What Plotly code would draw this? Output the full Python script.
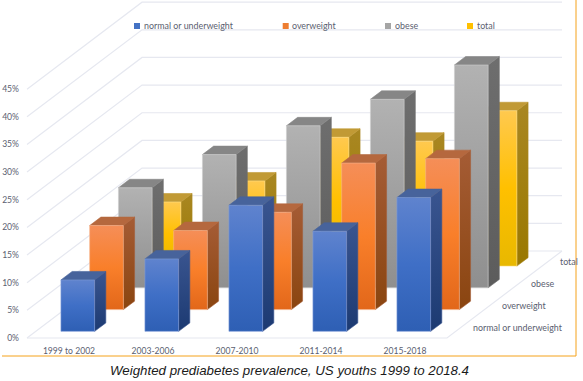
import plotly.graph_objects as go

periods = ["1999 to 2002", "2003-2006", "2007-2010", "2011-2014", "2015-2018"]
series_names = ["normal or underweight", "overweight", "obese", "total"]
normal = [9.3, 13.1, 22.8, 18.1, 24.2]
overweight = [15.2, 14.3, 17.6, 26.5, 27.3]
obese = [18.1, 24.1, 29.3, 34.1, 40.3]
total = [11.6, 15.4, 23.3, 22.6, 28.1]
percent_ticks = [0, 5, 10, 15, 20, 25, 30, 35, 40, 45]
percent_labels = ["0%", "5%", "10%", "15%", "20%", "25%", "30%", "35%", "40%", "45%"]
caption = "Weighted prediabetes prevalence, US youths 1999 to 2018.4"

all_values = [normal, overweight, obese, total]

# front colours (bottom, mid, top); side (bottom, top); cap; legend swatch
styles = [
    dict(front=["#2E5FB4", "#3F6FC6", "#5F83CE"], side=["#1C3A72", "#3A5590"], cap="#47639B", key="#4472C4", edge="#7F9CD8"),
    dict(front=["#E2671A", "#F97F2A", "#F58E58"], side=["#8A4510", "#A55C35"], cap="#B5683E", key="#ED7D31", edge="#F7B48C"),
    dict(front=["#8F8F8F", "#A0A0A0", "#B2B2B2"], side=["#5C5C5C", "#6E6E6E"], cap="#868686", key="#A5A5A5", edge="#CFCFCF"),
    dict(front=["#E8B800", "#FFC000", "#FFC94F"], side=["#9A7800", "#A98722"], cap="#C19A35", key="#FFC000", edge="#FFE08A"),
]

W, H = 583, 381
PX_CAT = 84.0      # pixels per category
PX_PCT = 5.53      # pixels per percent
X0, Y0 = 27.0, 338.0   # pixel position of the front-left floor corner
STEP_X = 28.75 / PX_CAT
STEP_Y = 21.75 / PX_PCT
BAR_W = 0.401
BAR_D = 0.39
PAD_D = (1 - BAR_D) / 2
AXIS_FONT = dict(family="Lato", size=8.6, color="#5A6070")
LABEL_FONT = dict(family="Lato", size=8.9, color="#5A6070")

fig = go.Figure()

# walls and floor grid
n_cat = len(periods)
n_ser = len(series_names)
gx, gy = [], []
for v in percent_ticks:
    gx += [0, n_ser * STEP_X, n_cat + n_ser * STEP_X, None]
    gy += [v, v + n_ser * STEP_Y, v + n_ser * STEP_Y, None]
gx += [0, n_cat, n_cat + n_ser * STEP_X]
gy += [0, 0, n_ser * STEP_Y]
fig.add_trace(go.Scatter(x=gx, y=gy, mode="lines", line=dict(color="#E6E8F0", width=1.2),
                         hoverinfo="skip", showlegend=False))


def face(xs, ys, colors, edge):
    n = len(colors) - 1
    scale = [[i / n, c] for i, c in enumerate(colors)]
    fig.add_trace(go.Scatter(
        x=xs, y=ys, mode="lines", fill="toself",
        fillgradient=dict(type="vertical", colorscale=scale),
        line=dict(color=edge, width=0.6), hoverinfo="skip", showlegend=False))


for k in reversed(range(n_ser)):
    st = styles[k]
    dep = (k + PAD_D)
    dx0, dy0 = dep * STEP_X, dep * STEP_Y
    ddx, ddy = BAR_D * STEP_X, BAR_D * STEP_Y
    for i in range(n_cat):
        v = all_values[k][i]
        l = i + (1 - BAR_W) / 2 + dx0
        r = l + BAR_W
        b = dy0
        t = dy0 + v
        # side
        face([r, r + ddx, r + ddx, r, r], [b, b + ddy, t + ddy, t, b], st["side"], st["side"][1])
        # cap
        face([l, r, r + ddx, l + ddx, l], [t, t, t + ddy, t + ddy, t], [st["cap"], st["cap"]], st["cap"])
        # front
        face([l, r, r, l, l], [b, b, t, t, b], st["front"], st["edge"])

annotations = []
# depth-axis labels
for k, name in enumerate(series_names):
    annotations.append(dict(x=n_cat + (k + 0.5) * STEP_X, y=(k + 0.5) * STEP_Y, text=name,
                            xref="x", yref="y", xanchor="left", yanchor="middle", xshift=10, showarrow=False,
                            font=LABEL_FONT))

# legend row
legend_x = [134, 282.7, 385, 467]
shapes = []
for k, name in enumerate(series_names):
    shapes.append(dict(type="rect", xref="paper", yref="paper",
                       x0=legend_x[k] / W, x1=(legend_x[k] + 6) / W,
                       y0=1 - 29 / H, y1=1 - 23 / H,
                       fillcolor=styles[k]["key"], line=dict(width=0)))
    annotations.append(dict(x=(legend_x[k] + 7.5) / W, y=1 - 25.5 / H, text=name, xref="paper", yref="paper",
                            xanchor="left", yanchor="middle", showarrow=False,
                            font=LABEL_FONT))

# caption
annotations.append(dict(x=289 / W, y=1 - 370 / H, text="<i>" + caption + "</i>", xref="paper", yref="paper",
                        xanchor="center", yanchor="middle", showarrow=False,
                        font=dict(family="Liberation Sans", size=13.3, color="#1A1A1A")))

# frame lines
frame = "#F5A21B"
shapes.append(dict(type="line", xref="paper", yref="paper", x0=2 / W, x1=576 / W, y0=1 - 356 / H, y1=1 - 356 / H,
                   line=dict(color=frame, width=1)))
shapes.append(dict(type="line", xref="paper", yref="paper", x0=576 / W, x1=576 / W, y0=1 - 356 / H, y1=1,
                   line=dict(color=frame, width=1)))

fig.update_layout(
    width=W, height=H, margin=dict(l=0, r=0, t=0, b=0),
    paper_bgcolor="white", plot_bgcolor="white", showlegend=False,
    annotations=annotations, shapes=shapes,
    xaxis=dict(range=[-X0 / PX_CAT, (W - X0) / PX_CAT], domain=[0, 1], anchor="free",
               position=(H - Y0) / H, tickmode="array",
               tickvals=[i + 0.5 for i in range(n_cat)], ticktext=periods,
               showgrid=False, zeroline=False, showline=False, ticks="", ticklabelstandoff=6,
               tickfont=AXIS_FONT),
    yaxis=dict(range=[(Y0 - H) / PX_PCT, Y0 / PX_PCT], domain=[0, 1], anchor="free",
               position=X0 / W, tickmode="array", tickvals=percent_ticks, ticktext=percent_labels,
               showgrid=False, zeroline=False, showline=False, ticks="", ticklabelstandoff=8,
               tickfont=AXIS_FONT),
)

fig.write_html("out.html", config={"displayModeBar": False},
               post_script="document.body.style.margin='0';document.documentElement.style.overflow='hidden';")
